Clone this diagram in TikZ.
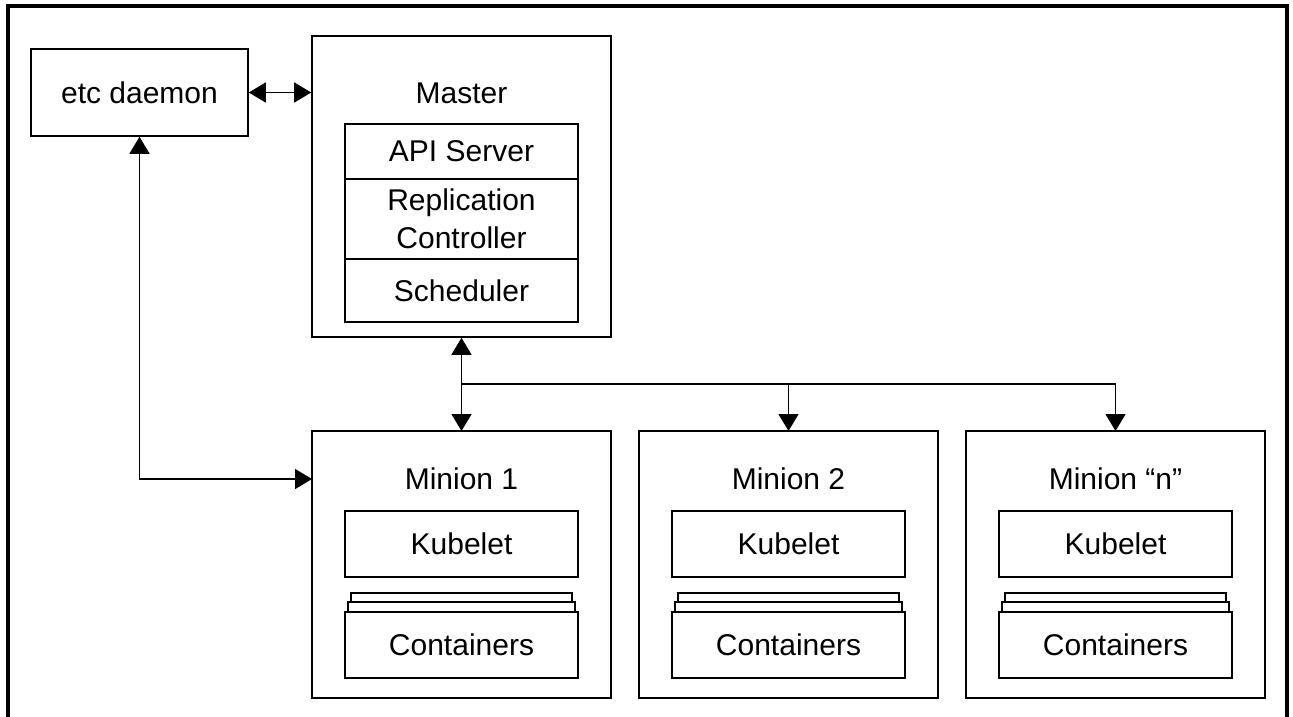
\documentclass[tikz,border=0pt]{standalone}
\usepackage{fontspec}
\setmainfont{Liberation Sans}
\usetikzlibrary{arrows.meta,positioning}

\newcommand*{\boxw}{299pt}
\newcommand*{\partw}{233pt}
\newcommand*{\txt}{\fontsize{30}{38}\selectfont}

\begin{document}
\begin{tikzpicture}
[
	x=1pt,
	y=-1pt,
	line width=1.6pt,
	>={Triangle[length=17pt,width=20pt]},
	outerbox/.style={rectangle,draw,line width=1.6pt,inner sep=0pt,font=\txt},
	part/.style={rectangle,draw,line width=1.6pt,inner sep=0pt,outer sep=0pt,minimum width=\partw,align=center,font=\txt},
	minion/.style={outerbox,outer sep=0pt,minimum width=\boxw,minimum height=267pt},
	title/.style={inner sep=0pt,font=\txt}
]

	\useasboundingbox (0,0) rectangle (1293,717);

	% frame
	\draw[line width=3.5pt] (8,717) -- (8,6) -- (1287,6) -- (1287,717);

	% etc daemon and master
	\node[outerbox,minimum width=217pt,minimum height=87pt] (etcd) at (139.5,92.5) {etc daemon};
	\node[outerbox,minimum width=\boxw,minimum height=301pt] (master) at (461.5,186.5) {};
	\node[title] (mastert) at (461.5,93) {Master};
	\node[part,minimum height=55pt] (api) at (461.5,151.5) {API Server};
	\node[part,minimum height=80pt,below=0pt of api] (repl) {Replication\\Controller};
	\node[part,minimum height=63pt,below=0pt of repl] (sched) {Scheduler};

	% minions
	\node[minion] (m1) at (461.5,564.5) {};
	\node[minion,right=28pt of m1] (m2) {};
	\node[minion,right=28pt of m2] (mn) {};

	\node[title] (m1t) at ([yshift=-48pt]m1.north) {Minion 1};
	\node[title] (m2t) at ([yshift=-48pt]m2.north) {Minion 2};
	\node[title] (mnt) at ([yshift=-48pt]mn.north) {Minion ``n''};

	\node[part,minimum height=66pt] (k1) at ([yshift=-113pt]m1.north) {Kubelet};
	\node[part,minimum height=66pt] (k2) at ([yshift=-113pt]m2.north) {Kubelet};
	\node[part,minimum height=66pt] (kn) at ([yshift=-113pt]mn.north) {Kubelet};

	\node[part,minimum height=66pt,below=35pt of k1] (c1) {Containers};
	\node[part,minimum height=66pt,below=35pt of k2] (c2) {Containers};
	\node[part,minimum height=66pt,below=35pt of kn] (cn) {Containers};

	% stacked containers
	\foreach \c in {c1,c2,cn} {
		\draw ([xshift=3pt]\c.north west) rectangle ([xshift=-3pt,yshift=10pt]\c.north east);
		\draw ([xshift=6pt,yshift=10pt]\c.north west) rectangle ([xshift=-6pt,yshift=19pt]\c.north east);
	}

	% connections
	\draw[<->] (etcd.east) -- (etcd.east -| master.west);
	\draw[<->] (etcd.south) |- (m1t -| m1.west);
	\draw[<->] (master.south) -- (m1.north);
	\coordinate (split) at (master.south |- 0,384);
	\draw[->] (split) -| (m2.north);
	\draw[->] (split) -| (mn.north);

\end{tikzpicture}
\end{document}
